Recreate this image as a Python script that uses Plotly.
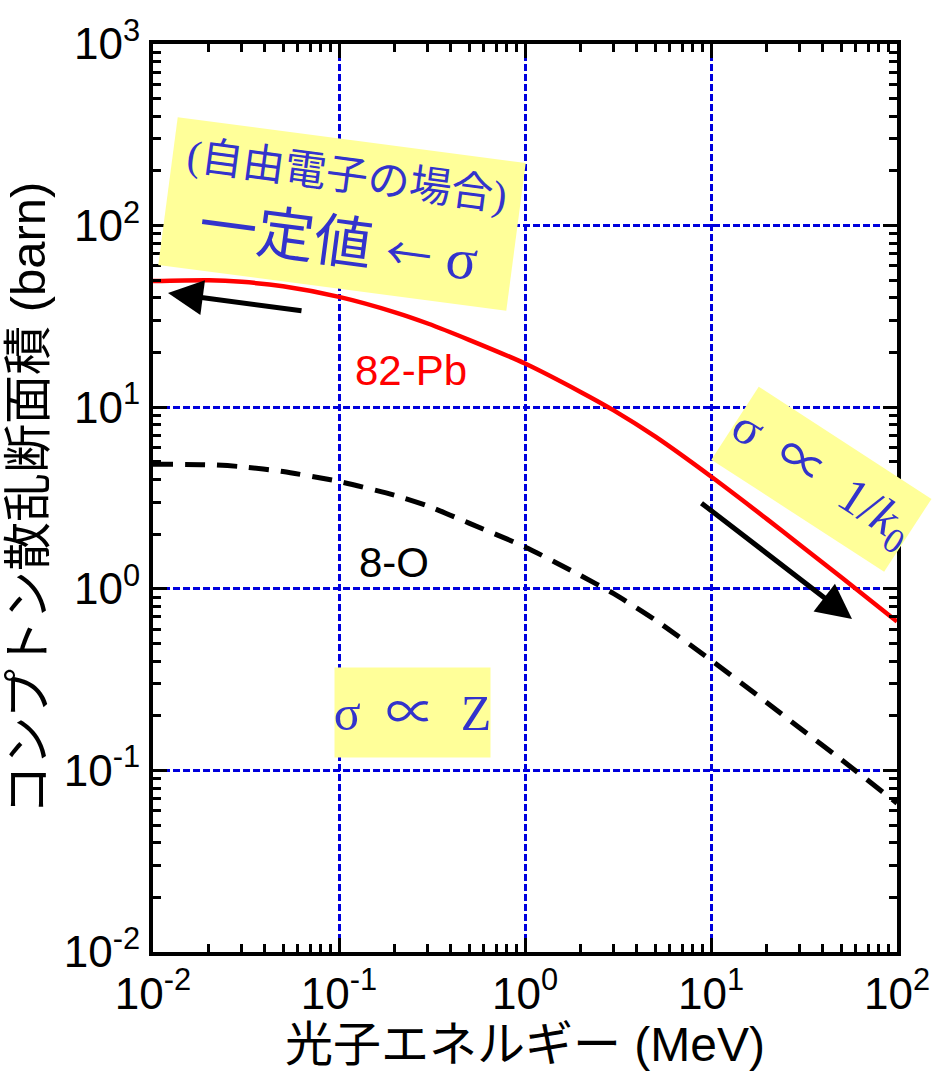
import plotly.graph_objects as go

# ---- data ----
energy_mev = [0.01, 0.02, 0.03, 0.05, 0.1, 0.2, 0.3, 0.5, 1, 2, 3, 5, 10, 20, 30, 50, 100]
sigma_pb = [49.5, 50.0, 49.0, 46.3, 40.5, 33.3, 28.9, 23.5, 17.4, 12.1, 9.6, 6.9, 4.15, 2.42, 1.75, 1.16, 0.66]
sigma_o = [4.85, 4.82, 4.7, 4.42, 3.9, 3.27, 2.86, 2.3, 1.7, 1.18, 0.94, 0.675, 0.405, 0.236, 0.171, 0.115, 0.066]

x_tickvals = [0.01, 0.1, 1, 10, 100]
x_ticktext = ["10<sup>-2</sup>", "10<sup>-1</sup>", "10<sup>0</sup>", "10<sup>1</sup>", "10<sup>2</sup>"]
y_tickvals = [0.01, 0.1, 1, 10, 100, 1000]
y_ticktext = ["10<sup>-2</sup>", "10<sup>-1</sup>", "10<sup>0</sup>", "10<sup>1</sup>", "10<sup>2</sup>", "10<sup>3</sup>"]
minor_digits = [2, 3, 4, 5, 6, 7, 8, 9]

SANS = "Liberation Sans, Arial, Noto Sans CJK JP"
SERIF = "Liberation Serif, Times New Roman, Noto Sans CJK JP"
BLUE_TXT = "#3333cc"
YELLOW = "#ffff99"

x_minor = [d * v for v in x_tickvals[:-1] for d in minor_digits]
y_minor = [d * v for v in y_tickvals[:-1] for d in minor_digits]

fig = go.Figure()
fig.add_trace(go.Scatter(x=energy_mev, y=sigma_o, mode="lines",
                         line=dict(color="black", width=5, dash="20px,12px", shape="spline", smoothing=0.7),
                         showlegend=False))
fig.add_trace(go.Scatter(x=energy_mev, y=sigma_pb, mode="lines",
                         line=dict(color="#ff0000", width=4.5, shape="spline", smoothing=0.7),
                         showlegend=False))

axis_common = dict(
    type="log", showline=True, linewidth=4, linecolor="black", mirror="allticks",
    ticks="inside", ticklen=14, tickwidth=3, tickcolor="black",
    showgrid=True, gridcolor="#0000dd", gridwidth=3, griddash="7px,3px",
    tickfont=dict(family=SANS, size=44, color="black"),
    tickmode="array", zeroline=False, automargin=False,
)

fig.update_xaxes(range=[-2, 2], tickvals=x_tickvals, ticktext=x_ticktext,
                 minor=dict(tickmode="array", tickvals=x_minor, ticks="inside", ticklen=8,
                            tickwidth=3, tickcolor="black", showgrid=False),
                 title=dict(text="光子エネルギー (MeV)", font=dict(family=SANS, size=48, color="black"), standoff=8),
                 **axis_common)
fig.update_yaxes(range=[-2, 3], tickvals=y_tickvals, ticktext=y_ticktext,
                 minor=dict(tickmode="array", tickvals=y_minor, ticks="inside", ticklen=8,
                            tickwidth=3, tickcolor="black", showgrid=False),
                 title=dict(text="コンプトン散乱断面積 (barn)", font=dict(family=SANS, size=49, color="black"), standoff=4),
                 **axis_common)

L, R, T, B = 153, 35, 44, 123
PW, PH = 932 - L - R, 1075 - T - B


def px(xp):
    return (xp - L) / PW


def py(yp):
    return 1 - (yp - T) / PH


def label(xp, yp, **kw):
    d = dict(x=px(xp), y=py(yp), xref="paper", yref="paper", showarrow=False,
             xanchor="center", yanchor="middle")
    d.update(kw)
    return d


ann = []
# Yellow rotated box (free electron)
ann.append(label(342, 214,
                 text='<span style="font-size:42px">(自由電子の場合)</span><br>'
                      '<span style="font-size:58px">一定値 </span>'
                      '<span style="font-size:46px;font-family:Noto Sans CJK JP">←</span>'
                      '<span style="font-size:58px"> σ</span>',
                 font=dict(family=SERIF, size=56, color=BLUE_TXT), bgcolor=YELLOW,
                 textangle=7.5, width=350, height=148, borderpad=0, align="center"))
# Yellow rotated box sigma ∝ 1/k0
ann.append(label(821, 479,
                 text="σ\u00a0\u00a0∝\u00a0\u00a01/<i>k</i><sub>0</sub>",
                 font=dict(family=SERIF, size=50, color=BLUE_TXT), bgcolor=YELLOW,
                 textangle=33, width=205, height=86, borderpad=0))
# Yellow box sigma ∝ Z
ann.append(label(412, 712,
                 text="σ\u00a0\u00a0∝\u00a0\u00a0Z",
                 font=dict(family=SERIF, size=50, color=BLUE_TXT), bgcolor=YELLOW,
                 width=155, height=89, borderpad=0))
# series labels
ann.append(label(411, 370, text="82-Pb", font=dict(family=SANS, size=42, color="#ff0000")))
ann.append(label(394, 562, text="8-O", font=dict(family=SANS, size=42, color="black")))
# arrows
ann.append(dict(x=px(168), y=py(293), xref="paper", yref="paper", text="", showarrow=True,
                ax=303 - 168, ay=311 - 293, axref="pixel", ayref="pixel",
                arrowhead=2, arrowsize=1.4, arrowwidth=5, arrowcolor="black", standoff=0))
ann.append(dict(x=px(852), y=py(619), xref="paper", yref="paper", text="", showarrow=True,
                ax=700 - 852, ay=502 - 619, axref="pixel", ayref="pixel",
                arrowhead=2, arrowsize=1.4, arrowwidth=5, arrowcolor="black", standoff=0))

fig.update_layout(
    width=932, height=1075,
    margin=dict(l=L, r=R, t=T, b=B),
    paper_bgcolor="white", plot_bgcolor="white",
    annotations=ann, showlegend=False,
)

fig.write_html("out.html")
